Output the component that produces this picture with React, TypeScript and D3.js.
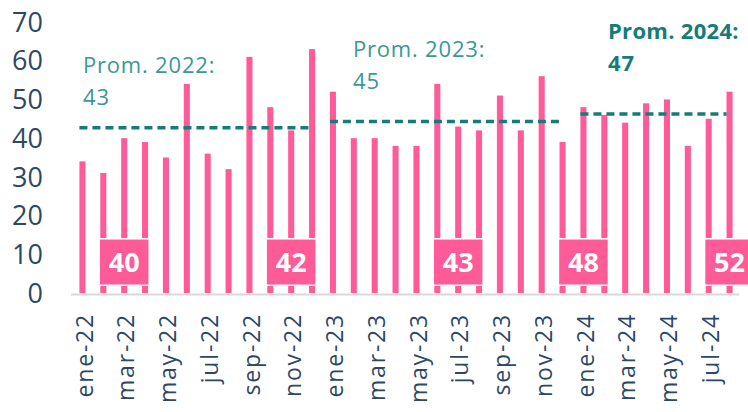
import React from "react";
import * as d3 from "d3";

const months = [
  "ene-22", "feb-22", "mar-22", "abr-22", "may-22", "jun-22", "jul-22", "ago-22", "sep-22", "oct-22", "nov-22", "dic-22",
  "ene-23", "feb-23", "mar-23", "abr-23", "may-23", "jun-23", "jul-23", "ago-23", "sep-23", "oct-23", "nov-23", "dic-23",
  "ene-24", "feb-24", "mar-24", "abr-24", "may-24", "jun-24", "jul-24", "ago-24",
];
const values = [
  34, 31, 40, 39, 35, 54, 36, 32, 61, 48, 42, 63,
  52, 40, 40, 38, 38, 54, 43, 42, 51, 42, 56, 39,
  48, 46, 44, 49, 50, 38, 45, 52,
];
const yTicks = [0, 10, 20, 30, 40, 50, 60, 70];

// promedios anuales
const avgYears = ["2022", "2023", "2024"];
const avgLabels = ["43", "45", "47"];

// etiquetas en cajas
const boxMonths = ["mar-22", "nov-22", "jul-23", "ene-24", "ago-24"];
const boxLabels = ["40", "42", "43", "48", "52"];

const W = 748;
const H = 412;
const pink = "#ff5b98";
const teal = "#157c7a";
const tealLight = "#3a9896";
const navy = "#2c4865";
const font = "'Open Sans', sans-serif";

const App = () => {
  const x = d3.scaleBand<string>().domain(months).range([72, 740]).paddingInner(0.71).paddingOuter(0.355);
  const y = d3.scaleLinear().domain([0, 70]).range([293, 22]);
  const bw = x.bandwidth();
  const cx = (m: string) => (x(m) ?? 0) + bw / 2;

  const avgPos = [
    { x: 83, y1: 73, bold: false },
    { x: 353, y1: 57, bold: false },
    { x: 608, y1: 39, bold: true },
  ];

  return (
    <svg width={W} height={H} style={{ position: "absolute", left: 0, top: 0, background: "#fff" }}>
      {/* barras */}
      {months.map((m, i) => (
        <rect key={m} x={x(m)} y={y(values[i])} width={bw} height={y(0) - y(values[i])} fill={pink} />
      ))}

      {/* eje x */}
      <line x1={71} x2={739} y1={y(0) + 1.5} y2={y(0) + 1.5} stroke="#d9d9d9" strokeWidth={2} />

      {/* eje y */}
      {yTicks.map((t) => (
        <text key={t} x={43} y={y(t)} dy="0.36em" textAnchor="end" fontFamily={font} fontSize={27} fill={navy}>
          {t}
        </text>
      ))}

      {/* etiquetas x */}
      {months.filter((_, i) => i % 2 === 0).map((m) => (
        <text
          key={m}
          transform={`translate(${cx(m) + 2},${313}) rotate(-90)`}
          dy="0.35em"
          textAnchor="end"
          fontFamily={font}
          fontSize={23}
          letterSpacing={1.8}
          fill={navy}
        >
          {m}
        </text>
      ))}

      {/* promedios */}
      {avgYears.map((yr, k) => {
        const idx = months.map((m, i) => (m.endsWith(yr.slice(2)) ? i : -1)).filter((i) => i >= 0);
        const mean = d3.mean(idx, (i) => values[i]) ?? 0;
        const x1 = cx(months[idx[0]]) - 3;
        const x2 = cx(months[idx[idx.length - 1]]) - 3;
        const p = avgPos[k];
        const col = p.bold ? teal : tealLight;
        return (
          <g key={yr}>
            <line x1={x1} x2={x2} y1={y(mean) + 1} y2={y(mean) + 1} stroke={teal} strokeWidth={3.5} strokeDasharray="8,5" />
            <text x={p.x} y={p.y1} fontFamily={font} fontSize={22} fontWeight={p.bold ? 700 : 400} letterSpacing={p.bold ? 0.3 : 0.8} fill={col}>
              {`Prom. ${yr}:`}
            </text>
            <text x={p.x} y={p.y1 + 32} fontFamily={font} fontSize={22} fontWeight={p.bold ? 700 : 400} letterSpacing={0.8} fill={col}>
              {avgLabels[k]}
            </text>
          </g>
        );
      })}

      {/* cajas */}
      {boxMonths.map((m, k) => (
        <g key={m}>
          <rect x={cx(m) - 25} y={y(14)} width={50} height={y(2) - y(14)} fill={pink} stroke="#fff" strokeWidth={1.5} />
          <text
            x={cx(m)}
            y={(y(14) + y(2)) / 2}
            dy="0.36em"
            textAnchor="middle"
            fontFamily={font}
            fontSize={27}
            fontWeight={700}
            fill="#fff"
          >
            {boxLabels[k]}
          </text>
        </g>
      ))}
    </svg>
  );
};

export default App;
